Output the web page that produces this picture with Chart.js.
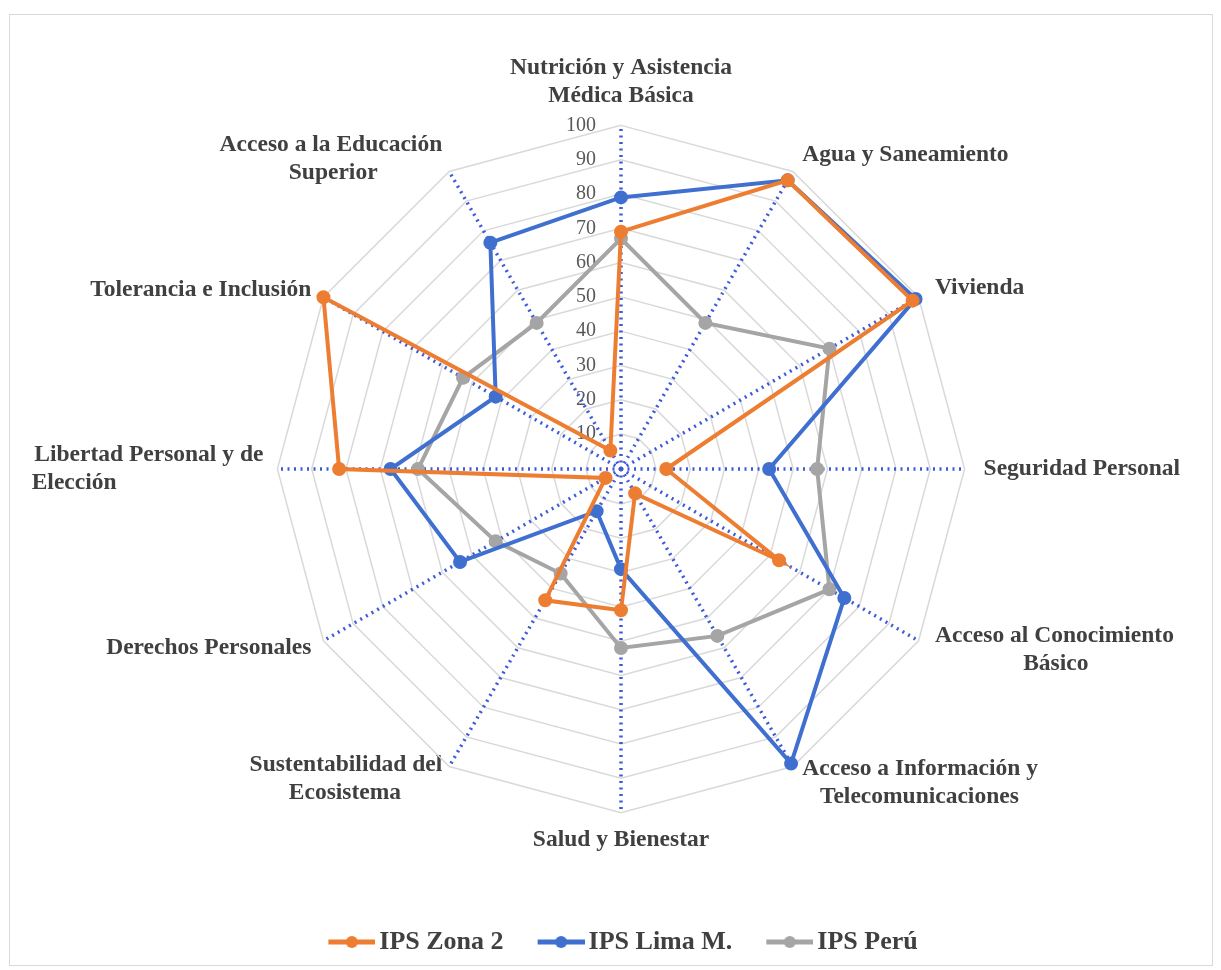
<!DOCTYPE html>
<html lang="es">
<head>
  <meta charset="UTF-8">
  <title>IPS Radar</title>
  <script src="https://cdn.jsdelivr.net/npm/chart.js"></script>
  <style>
    html, body { margin: 0; padding: 0; background: #fff; }
    .box {
      position: absolute; left: 9px; top: 14px;
      width: 1202px; height: 950px;
      border: 1px solid #d9d9d9;
    }
  </style>
</head>
<body>
  <div class="box"><canvas id="radar"></canvas></div>
  <script>
    // ejes (sentido horario desde arriba)
    const dimensiones = [
      ['Nutrición y Asistencia', 'Médica Básica'],
      'Agua y Saneamiento',
      'Vivienda',
      'Seguridad Personal',
      ['Acceso al Conocimiento', 'Básico'],
      ['Acceso a Información y', 'Telecomunicaciones'],
      'Salud y Bienestar',
      ['Sustentabilidad del', 'Ecosistema'],
      'Derechos Personales',
      ['Libertad Personal y de', 'Elección'],
      'Tolerancia e Inclusión',
      ['Acceso a la Educación', 'Superior']
    ];

    const ipsZona2 = [69, 97, 98, 13, 53, 8, 41, 44, 5, 82, 100, 6];
    const ipsLima  = [79, 97, 99, 43, 75, 99, 29, 14, 54, 67, 42, 76];
    const ipsPeru  = [67, 49, 70, 57, 70, 56, 52, 35, 42, 59, 53, 49];

    const serieNombres = ['IPS Zona 2', 'IPS Lima M.', 'IPS Perú'];
    const serieColores = ['#ED7D31', '#3F6FCF', '#A5A5A5'];

    const FIG = '\u2007';
    const n = dimensiones.length;
    const labelFont = { family: 'Liberation Serif', size: 23.5, weight: 'bold', lineHeight: 1.2 };

    // centrar las etiquetas de dos lineas como en Excel (relleno con espacios)
    const measure = document.createElement('canvas').getContext('2d');
    measure.font = 'bold 23.5px "Liberation Serif"';
    const spaceW = measure.measureText(' ').width;
    const etiquetas = dimensiones.map((lab, i) => {
      if (!Array.isArray(lab) || i === 0 || i === n / 2) return lab;
      const widths = lab.map(s => measure.measureText(s).width);
      const maxW = Math.max(...widths);
      const leftSide = i > n / 2;
      const leftAligned = i === 9; // "Libertad..." va alineado a la izquierda
      return lab.map((s, k) => {
        const gap = maxW - widths[k];
        if (gap < 1) return s;
        if (leftAligned) return s + ' '.repeat(Math.round(gap / spaceW));
        const pad = ' '.repeat(Math.round(gap / 2 / spaceW));
        return leftSide ? s + pad : pad + s;
      });
    });

    // separacion etiqueta-anillo segun el lado
    const labelPadding = (ctx) => {
      const i = ctx.index;
      if (i === 0) return 3;
      if (i === n / 2) return 1;
      return i < n / 2 ? 7 : 2;
    };

    // Excel centra verticalmente las etiquetas laterales sobre su punto
    const centrarEtiquetas = (scale) => {
      const items = scale._pointLabelItems || [];
      items.forEach((it, i) => {
        const ang = i * 360 / n;
        if (ang === 0 || ang === 90 || ang === 180 || ang === 270) return;
        const h = it.bottom - it.top;
        const shift = (ang < 90 || ang > 270) ? h / 2 : -h / 2;
        it.y += shift; it.top += shift; it.bottom += shift;
      });
    };

    // marcador de leyenda: linea con punto (margen transparente a la izquierda)
    const legendMark = (color) => {
      const c = document.createElement('canvas');
      c.width = 90; c.height = 14;
      const g = c.getContext('2d');
      g.strokeStyle = color;
      g.lineWidth = 5;
      g.beginPath(); g.moveTo(43, 7); g.lineTo(90, 7); g.stroke();
      g.fillStyle = color;
      g.beginPath(); g.arc(66.5, 7, 6, 0, Math.PI * 2); g.fill();
      return c;
    };

    const makeDataset = (label, data, color) => ({
      label: label,
      data: data,
      borderColor: color,
      backgroundColor: color,
      pointBackgroundColor: color,
      pointBorderColor: color,
      pointRadius: 5,
      borderWidth: 4,
      fill: false
    });

    new Chart(document.getElementById('radar'), {
      type: 'radar',
      data: {
        labels: etiquetas,
        datasets: [
          makeDataset(serieNombres[0], ipsZona2, serieColores[0]),
          makeDataset(serieNombres[1], ipsLima, serieColores[1]),
          makeDataset(serieNombres[2], ipsPeru, serieColores[2])
        ]
      },
      options: {
        responsive: true,
        maintainAspectRatio: false,
        animation: false,
        layout: { padding: { top: 24, bottom: 0, left: 0, right: 10 } },
        elements: { line: { tension: 0 } },
        scales: {
          r: {
            min: -0.2,
            max: 100,
            afterFit: centrarEtiquetas,
            ticks: {
              stepSize: 10,
              showLabelBackdrop: false,
              color: '#595959',
              font: { family: 'Liberation Serif', size: 20 },
              callback: (v) => {
                if (v < 0) return '';
                const s = String(v);
                return FIG.repeat(3 - s.length) + s + FIG.repeat(8);
              }
            },
            grid: { color: '#d9d9d9', lineWidth: 1.5 },
            angleLines: {
              color: '#3D5BD9',
              lineWidth: 3.5,
              borderDash: [2, 4.5]
            },
            pointLabels: {
              color: '#404040',
              padding: labelPadding,
              font: labelFont
            }
          }
        },
        plugins: {
          tooltip: { enabled: false },
          legend: {
            position: 'bottom',
            title: { display: true, text: '', padding: { top: 47, bottom: 0 }, font: { size: 10 } },
            labels: {
              usePointStyle: true,
              pointStyleWidth: 72,
              padding: 0,
              color: '#404040',
              font: { family: 'Liberation Serif', size: 26, weight: 'bold' },
              generateLabels: (chart) => {
                const items = Chart.defaults.plugins.legend.labels.generateLabels(chart);
                items.forEach((it) => { it.pointStyle = legendMark(serieColores[it.datasetIndex]); });
                return items;
              }
            }
          }
        }
      }
    });
  </script>
</body>
</html>
